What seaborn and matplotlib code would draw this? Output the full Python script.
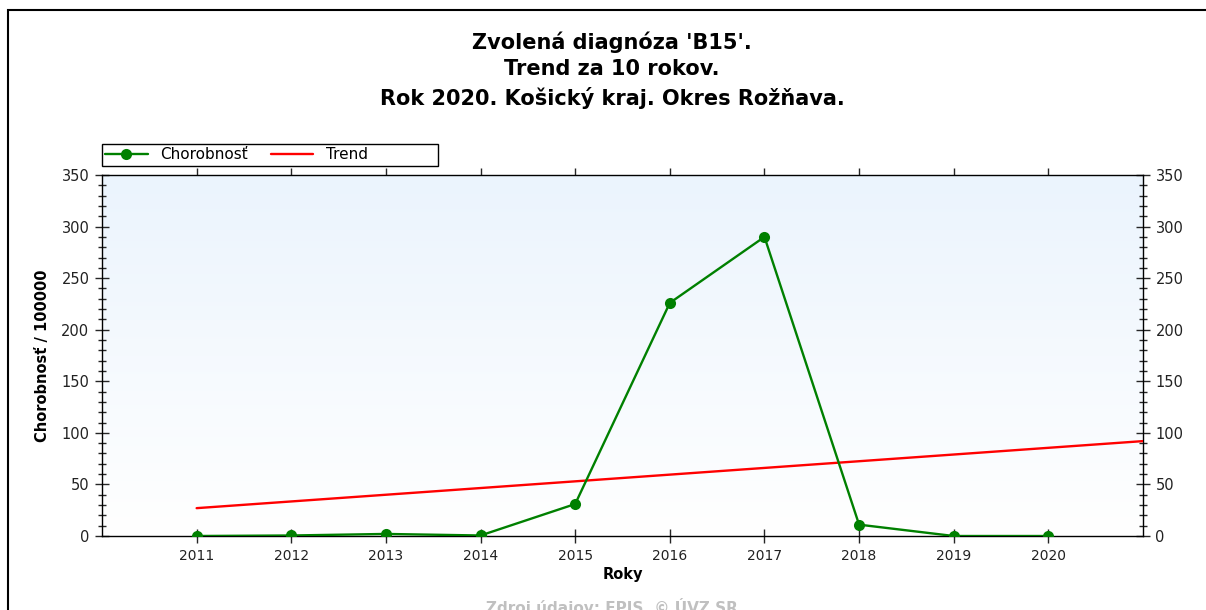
import numpy as np
import pandas as pd
import matplotlib
matplotlib.use("Agg")
import matplotlib.pyplot as plt
import seaborn as sns
from matplotlib.colors import LinearSegmentedColormap
from matplotlib.patches import Rectangle
from matplotlib.ticker import MultipleLocator

# Data
years = [2011, 2012, 2013, 2014, 2015, 2016, 2017, 2018, 2019, 2020]
chorobnost = [0, 0.5, 2, 0.5, 31, 226, 290, 11, 0, 0]
trend_years = [2011, 2021]
trend_values = [27, 92]

title_lines = ["Zvolená diagnóza 'B15'.", "Trend za 10 rokov.", "Rok 2020. Košický kraj. Okres Rožňava."]
footer = "Zdroj údajov: EPIS, © ÚVZ SR"

sns.set_style("white")
plt.rcParams['font.family'] = ['DejaVu Sans']
plt.rcParams['text.color'] = '#000000'
plt.rcParams['axes.labelcolor'] = '#000000'

df = pd.DataFrame({"rok": years, "hodnota": chorobnost})
df_trend = pd.DataFrame({"rok": trend_years, "hodnota": trend_values})

fig = plt.figure(figsize=(12.06, 6.10), dpi=100)
ax = fig.add_axes([102 / 1206, 74 / 610, 1041 / 1206, 361 / 610])

# background gradient (light blue at top -> white at bottom)
cmap = LinearSegmentedColormap.from_list("bg", ["#ffffff", "#ebf4fd"])
grad = np.linspace(0, 1, 256).reshape(-1, 1)
ax.imshow(grad, cmap=cmap, origin="lower", aspect="auto", extent=[0, 1, 0, 1],
          transform=ax.transAxes, zorder=0)

sns.lineplot(data=df_trend, x="rok", y="hodnota", ax=ax, color="#ff0000",
             linewidth=1.7, label="Trend", zorder=3)
sns.lineplot(data=df, x="rok", y="hodnota", ax=ax, color="#008000",
             linewidth=1.7, marker="o", markersize=8, markeredgewidth=0,
             label="Chorobnosť", zorder=4)

ax.set_xlim(2010, 2021)
ax.set_ylim(0, 350)
ax.set_xticks(years)
ax.yaxis.set_major_locator(MultipleLocator(50))
ax.yaxis.set_minor_locator(MultipleLocator(10))

ax.tick_params(axis="y", which="major", direction="inout", length=10, width=1,
               left=True, right=True, labelleft=True, labelright=True,
               labelsize=10.5, pad=4)
ax.tick_params(axis="y", which="minor", direction="inout", length=6, width=1,
               left=True, right=True)
ax.tick_params(axis="x", which="major", direction="inout", length=10, width=1,
               bottom=True, top=False, labelsize=10, pad=4)
for lbl in ax.get_yticklabels() + ax.get_xticklabels():
    lbl.set_color("#222222")

# top ticks pointing up
top = ax.secondary_xaxis("top")
top.set_xticks(years)
top.tick_params(direction="out", length=5, width=1, labeltop=False)

for s in ax.spines.values():
    s.set_color("#000000")
    s.set_linewidth(1)
top.spines["top"].set_visible(False)

ax.set_xlabel("Roky", fontsize=10.5, fontweight="bold", labelpad=3)
ax.set_ylabel("Chorobnosť / 100000", fontsize=10.5, fontweight="bold", labelpad=8)

# legend above the plot area, with its own frame
handles, labels = ax.get_legend_handles_labels()
order = [labels.index("Chorobnosť"), labels.index("Trend")]
leg = fig.legend([handles[i] for i in order], [labels[i] for i in order],
                 loc="center left", bbox_to_anchor=(105 / 1206, 1 - 155 / 610),
                 ncol=2, fontsize=11, frameon=False,
                 borderpad=0, handlelength=2.8, handletextpad=0.8, columnspacing=1.5,
                 borderaxespad=0)
ax.get_legend().remove()
fig.patches.append(Rectangle((102 / 1206, 1 - 166 / 610), 336 / 1206, 22 / 610,
                             transform=fig.transFigure, fill=False,
                             edgecolor="#000000", linewidth=1))

fig.text(612 / 1206, 1 - 70 / 610, "\n".join(title_lines), ha="center", va="center",
         fontsize=15, fontweight="bold", linespacing=1.42, color="#000000")
fig.text(612 / 1206, 3 / 610, footer, ha="center", va="center",
         fontsize=11, fontweight="bold", color="#c0c0c0")

# outer frame
fig.patches.append(Rectangle((8 / 1206, -0.05), 1.2, 1 - 10 / 610 + 0.05,
                             transform=fig.transFigure, fill=False,
                             edgecolor="#000000", linewidth=1.5, clip_on=False))

fig.savefig("out.png", dpi=100)
